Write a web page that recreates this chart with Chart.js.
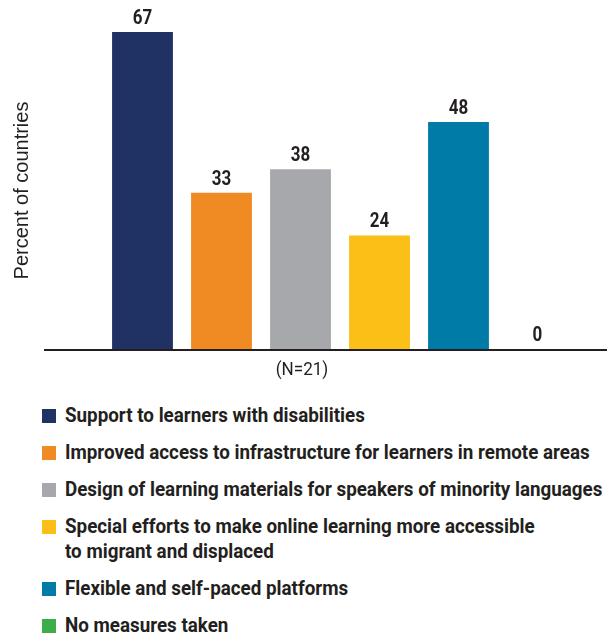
<!DOCTYPE html>
<html>
<head>
<meta charset="utf-8">
<script src="https://cdn.jsdelivr.net/npm/chart.js@4.4.1/dist/chart.umd.min.js"></script>
<style>
    html, body { margin: 0; padding: 0; background: #fff; }
    .wrap { position: relative; width: 616px; height: 637px; overflow: hidden; }
    #chart-box { position: absolute; left: 0; top: 0; width: 616px; height: 390px; }
    #legend { position: absolute; left: 42px; top: 403px; width: 700px; }
    .leg-row { display: flex; align-items: flex-start; margin-bottom: 12px; }
    .leg-box { width: 14px; height: 14px; margin-top: 6px; flex: none; }
    .leg-text {
        margin-left: 9px;
        font: 700 20px Roboto, sans-serif;
        line-height: 25px;
        color: #231f20;
        white-space: pre;
        transform: scaleX(0.94);
        transform-origin: left center;
    }
</style>
</head>
<body>
<div class="wrap">
    <div id="chart-box"><canvas id="measuresChart"></canvas></div>
    <div id="legend"></div>
</div>
<script>
// measures taken to support vulnerable learners
const categories = [
    'Support to learners with disabilities',
    'Improved access to infrastructure for learners in remote areas',
    'Design of learning materials for speakers of minority languages',
    'Special efforts to make online learning more accessible\nto migrant and displaced',
    'Flexible and self-paced platforms',
    'No measures taken'
];
const values = [67, 33, 38, 24, 48, 0];
const barColors = ['#203163', '#f08a22', '#a7a8ab', '#fbbf17', '#007ba8', '#3cae49'];
const yTitle = 'Percent of countries';
const sampleNote = '(N=21)';

const TEXT = '#231f20';

// build html legend
const legendEl = document.getElementById('legend');
categories.forEach((name, i) => {
    const row = document.createElement('div');
    row.className = 'leg-row';
    row.innerHTML = `<span class="leg-box" style="background:${barColors[i]}"></span><span class="leg-text"></span>`;
    row.querySelector('.leg-text').textContent = name;
    legendEl.appendChild(row);
});

// value labels + baseline + sample note
const decorations = {
    id: 'decorations',
    afterDatasetsDraw(chart) {
        const { ctx } = chart;
        const meta = chart.getDatasetMeta(0);
        const y0 = chart.scales.y.getPixelForValue(0);

        ctx.save();
        ctx.fillStyle = TEXT;
        ctx.font = '700 20px Roboto, sans-serif';
        ctx.textAlign = 'center';
        ctx.textBaseline = 'alphabetic';
        meta.data.forEach((bar, i) => {
            ctx.save();
            ctx.translate(bar.x, bar.y - 8);
            ctx.scale(0.85, 1);
            ctx.fillText(String(values[i]), 0, 0);
            ctx.restore();
        });

        // baseline runs past the bars on both sides
        ctx.strokeStyle = TEXT;
        ctx.lineWidth = 2;
        ctx.beginPath();
        ctx.moveTo(44, y0 + 1);
        ctx.lineTo(607, y0 + 1);
        ctx.stroke();

        ctx.font = '400 19px Roboto, sans-serif';
        ctx.textBaseline = 'middle';
        ctx.save();
        ctx.translate(302, y0 + 21);
        ctx.scale(0.9, 1);
        ctx.fillText(sampleNote, 0, 0);
        ctx.restore();
        ctx.restore();
    }
};

new Chart(document.getElementById('measuresChart'), {
    type: 'bar',
    data: {
        labels: categories,
        datasets: [{
            data: values,
            backgroundColor: barColors,
            borderWidth: 0,
            barPercentage: 0.77,
            categoryPercentage: 1
        }]
    },
    options: {
        responsive: true,
        maintainAspectRatio: false,
        animation: false,
        layout: { padding: { top: 32, right: 39, bottom: 41, left: 0 } },
        plugins: {
            legend: { display: false },
            tooltip: { enabled: false }
        },
        scales: {
            x: { display: false },
            y: {
                min: 0,
                max: 67,
                grid: { display: false },
                border: { display: false },
                ticks: { display: false },
                title: {
                    display: true,
                    text: yTitle,
                    color: TEXT,
                    font: { family: '"Liberation Sans", Arial, sans-serif', size: 20 },
                    padding: { top: 10, bottom: 0 }
                },
                afterFit(scale) { scale.width = 103; }
            }
        }
    },
    plugins: [decorations]
});
</script>
</body>
</html>
